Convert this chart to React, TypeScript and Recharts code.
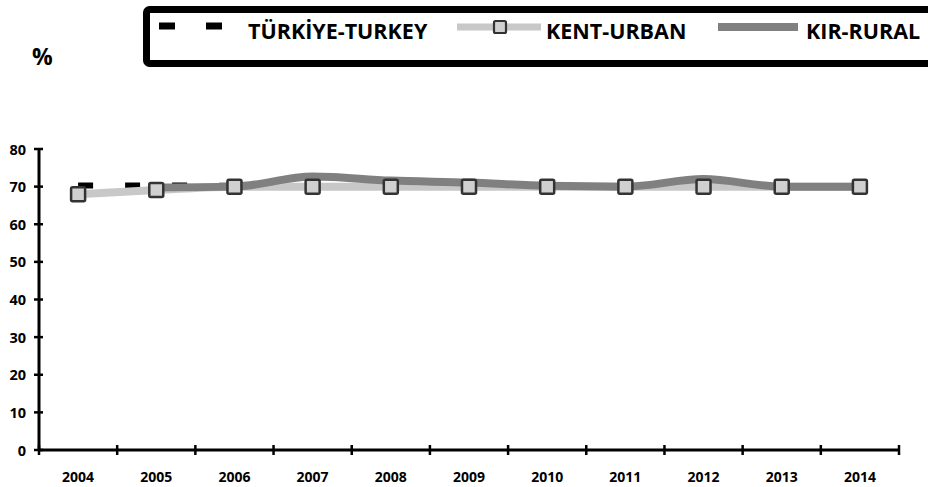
import React from 'react';
import { LineChart, Line, XAxis, YAxis } from 'recharts';

// Labour force participation (%) by settlement type, 2004–2014
const YEARS = ['2004', '2005', '2006', '2007', '2008', '2009', '2010', '2011', '2012', '2013', '2014'];
const TURKEY = [70.3, 70.3, 70.2, 70.1, 70, 70, 70, 70, 70.3, 70, 70];
const URBAN = [68, 69.1, 70, 70, 70, 70, 70, 70, 70, 70, 70];
const RURAL: (number | null)[] = [null, 69.8, 70, 72.7, 71.6, 71.1, 70.2, 70, 72, 70, 70];
const Y_TICKS = [0, 10, 20, 30, 40, 50, 60, 70, 80];
const SERIES_NAMES = ['TÜRKİYE-TURKEY', 'KENT-URBAN', 'KIR-RURAL'];
const UNIT_LABEL = '%';

const FONT = '"Open Sans", "DejaVu Sans", sans-serif';
const URBAN_COLOR = '#c8c8c8';
const RURAL_COLOR = '#808080';
const MARKER_STROKE = '#333333';

const data = YEARS.map((year, i) => ({
  pos: i + 0.5,
  year,
  turkey: TURKEY[i],
  urban: URBAN[i],
  rural: RURAL[i],
}));

// Category boundaries (integers) carry tick marks; mid-points carry year labels
const X_TICKS: number[] = [];
for (let i = 0; i <= YEARS.length * 2; i++) X_TICKS.push(i / 2);

const XTick = (props: any) => {
  const { x, y, payload } = props;
  const v = payload.value as number;
  if (Number.isInteger(v)) {
    return <line x1={x} x2={x} y1={y - 5} y2={y + 5} stroke="#000" strokeWidth={2.5} />;
  }
  const label = YEARS[Math.floor(v)];
  return (
    <text x={x} y={y + 26} textAnchor="middle" dominantBaseline="central" fontFamily={FONT} fontWeight={700} fontSize={14} fill="#000">
      {label}
    </text>
  );
};

const YTick = (props: any) => {
  const { x, y, payload } = props;
  return (
    <g>
      <line x1={x - 5} x2={x + 4} y1={y} y2={y} stroke="#000" strokeWidth={2.5} />
      <text x={x - 13} y={y} textAnchor="end" dominantBaseline="central" fontFamily={FONT} fontWeight={700} fontSize={14.5} fill="#000">
        {payload.value}
      </text>
    </g>
  );
};

const SquareDot = (props: any) => {
  const { cx, cy, index, value } = props;
  if (value == null || cx == null || cy == null) return <g key={`sq-${index}`} />;
  return (
    <rect key={`sq-${index}`} x={cx - 7} y={cy - 7} width={14} height={14} rx={1.5} fill="#d0d0d0" stroke={MARKER_STROKE} strokeWidth={2.5} />
  );
};

const LegendBox = () => (
  <svg width={928} height={487} style={{ position: 'absolute', left: 0, top: 0, pointerEvents: 'none' }}>
    <text x={32} y={56} dominantBaseline="central" fontFamily={FONT} fontWeight={700} fontSize={23} fill="#000">
      {UNIT_LABEL}
    </text>
    <rect x={146.5} y={9.5} width={820} height={54} rx={3} fill="#fff" stroke="#000" strokeWidth={7} />
    {/* TÜRKİYE-TURKEY */}
    <line x1={159} x2={222} y1={26} y2={26} stroke="#000" strokeWidth={7} strokeDasharray="16 31" />
    <text x={248} y={30} dominantBaseline="central" fontFamily={FONT} fontWeight={700} fontSize={21.5} fill="#000">
      {SERIES_NAMES[0]}
    </text>
    {/* KENT-URBAN */}
    <line x1={457} x2={541} y1={27} y2={27} stroke={URBAN_COLOR} strokeWidth={7} />
    <rect x={494} y={21} width={12} height={12} rx={1.5} fill="#d0d0d0" stroke={MARKER_STROKE} strokeWidth={2.2} />
    <text x={546} y={30} dominantBaseline="central" fontFamily={FONT} fontWeight={700} fontSize={21.5} fill="#000">
      {SERIES_NAMES[1]}
    </text>
    {/* KIR-RURAL */}
    <line x1={718} x2={798} y1={27} y2={27} stroke={RURAL_COLOR} strokeWidth={8} />
    <text x={806} y={30} dominantBaseline="central" fontFamily={FONT} fontWeight={700} fontSize={21.5} fill="#000">
      {SERIES_NAMES[2]}
    </text>
  </svg>
);

export default function App() {
  return (
    <div style={{ position: 'absolute', left: 0, top: 0, width: 928, height: 487, overflow: 'hidden', background: '#fff', fontFamily: FONT }}>
      <LineChart width={928} height={487} data={data} margin={{ top: 149, right: 29, bottom: 0, left: 0 }}>
        <XAxis
          dataKey="pos"
          type="number"
          domain={[0, YEARS.length]}
          ticks={X_TICKS}
          interval={0}
          height={37}
          tickSize={0}
          tickMargin={0}
          tickLine={false}
          axisLine={{ stroke: '#000', strokeWidth: 3 }}
          tick={<XTick />}
        />
        <YAxis
          type="number"
          domain={[0, 80]}
          ticks={Y_TICKS}
          interval={0}
          width={39}
          tickSize={0}
          tickMargin={0}
          tickLine={false}
          axisLine={{ stroke: '#000', strokeWidth: 3 }}
          tick={<YTick />}
        />
        <Line dataKey="turkey" name={SERIES_NAMES[0]} type="monotone" stroke="#000" strokeWidth={6} strokeDasharray="15 32" dot={false} isAnimationActive={false} />
        <Line dataKey="urban" name={SERIES_NAMES[1]} type="monotone" stroke={URBAN_COLOR} strokeWidth={8} dot={false} isAnimationActive={false} />
        <Line dataKey="rural" name={SERIES_NAMES[2]} type="monotone" stroke={RURAL_COLOR} strokeWidth={8} dot={false} isAnimationActive={false} />
        <Line dataKey="urban" name={`${SERIES_NAMES[1]} markers`} type="monotone" stroke="none" dot={SquareDot} activeDot={false} legendType="none" isAnimationActive={false} />
      </LineChart>
      <LegendBox />
    </div>
  );
}
